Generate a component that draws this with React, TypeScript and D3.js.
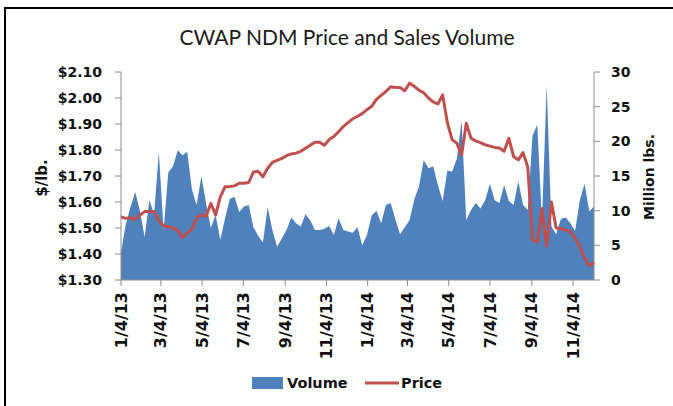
import * as d3 from "d3";

// weekly series starting 1/4/13
const startDate = new Date(2013, 0, 4);

const volume = [
  4.0, 8.0, 10.5, 12.7, 10.0, 6.2, 11.5, 9.5, 18.5, 7.2,
  15.5, 16.4, 18.7, 18.0, 18.5, 13.0, 10.8, 15.0, 11.0, 7.5,
  9.4, 5.8, 8.9, 11.7, 12.0, 9.8, 10.6, 10.8, 7.6, 6.4,
  5.4, 10.5, 7.2, 4.8, 6.0, 7.2, 9.0, 8.2, 7.7, 9.5,
  8.6, 7.2, 7.2, 7.4, 7.8, 6.5, 8.9, 7.2, 7.0, 6.8,
  7.6, 5.0, 6.5, 9.3, 10.0, 8.2, 10.8, 11.1, 8.8, 6.6,
  7.6, 8.6, 11.6, 13.5, 17.3, 16.1, 16.4, 13.7, 11.4, 15.8,
  15.6, 17.5, 23.0, 8.6, 10.1, 11.1, 10.3, 11.5, 13.9, 11.5,
  11.1, 13.7, 11.4, 10.8, 14.2, 10.8, 10.1, 20.8, 22.4, 8.5,
  28.1, 7.7, 6.6, 8.8, 9.0, 8.2, 7.1, 11.5, 13.9, 9.9,
  10.6,
];

const price = [
  1.543, 1.537, 1.540, 1.533, 1.550, 1.563, 1.563, 1.563, 1.528, 1.508,
  1.505, 1.500, 1.490, 1.464, 1.480, 1.495, 1.540, 1.550, 1.545, 1.595,
  1.550, 1.620, 1.659, 1.660, 1.662, 1.672, 1.672, 1.675, 1.715, 1.718,
  1.697, 1.730, 1.752, 1.760, 1.768, 1.778, 1.785, 1.788, 1.795, 1.807,
  1.818, 1.830, 1.830, 1.818, 1.840, 1.852, 1.870, 1.890, 1.905, 1.920,
  1.930, 1.940, 1.955, 1.968, 1.995, 2.010, 2.025, 2.043, 2.040, 2.040,
  2.028, 2.057, 2.045, 2.030, 2.020, 2.000, 1.985, 1.977, 2.012, 1.905,
  1.840, 1.826, 1.780, 1.903, 1.845, 1.835, 1.828, 1.820, 1.815, 1.810,
  1.808, 1.795, 1.845, 1.775, 1.762, 1.790, 1.735, 1.455, 1.445, 1.575,
  1.430, 1.600, 1.500, 1.497, 1.492, 1.486, 1.460, 1.430, 1.385, 1.355,
  1.367,
];

const dateTicks = ["1/4/13", "3/4/13", "5/4/13", "7/4/13", "9/4/13", "11/4/13",
  "1/4/14", "3/4/14", "5/4/14", "7/4/14", "9/4/14", "11/4/14"];
const priceTicks = [1.3, 1.4, 1.5, 1.6, 1.7, 1.8, 1.9, 2.0, 2.1];
const volumeTicks = [0, 5, 10, 15, 20, 25, 30];

const W = 673;
const H = 406;
const left = 121;
const right = 594;
const top = 72;
const bottom = 280;

const axisColor = "#8c8c8c";
const blue = "#4f81bd";
const red = "#c0504d";
const tickFont = "'DejaVu Sans', Verdana, sans-serif";

export default function App() {
  const dates = volume.map((_, i) => d3.timeDay.offset(startDate, 7 * i));
  const parse = d3.timeParse("%m/%d/%y");

  const x = d3.scaleTime().domain([dates[0], dates[dates.length - 1]]).range([left, right]);
  const yPrice = d3.scaleLinear().domain([1.3, 2.1]).range([bottom, top]);
  const yVol = d3.scaleLinear().domain([0, 30]).range([bottom, top]);

  const area = d3.area<number>()
    .x((_, i) => x(dates[i]))
    .y0(yVol(0))
    .y1(d => yVol(d));

  const line = d3.line<number>()
    .x((_, i) => x(dates[i]))
    .y(d => yPrice(d));

  return (
    <svg width={W} height={H} style={{ position: "absolute", left: 0, top: 0, display: "block", background: "#fff" }}>
      {/* outer frame */}
      <rect x={5} y={8} width={W + 20} height={H + 20} fill="#fff" stroke="#000" strokeWidth={2} />

      <text x={347} y={45} textAnchor="middle" fontFamily="Lato, 'Open Sans', sans-serif" fontSize={21} fill="#1a1a1a">
        CWAP NDM Price and Sales Volume
      </text>

      {/* volume area */}
      <path d={area(volume) ?? ""} fill={blue} />

      {/* axes */}
      <line x1={left} x2={left} y1={top} y2={bottom} stroke={axisColor} />
      <line x1={right} x2={right} y1={top} y2={bottom} stroke={axisColor} />
      <line x1={left} x2={right} y1={bottom} y2={bottom} stroke={axisColor} />

      {priceTicks.map(t => (
        <g key={"p" + t}>
          <line x1={left - 6} x2={left} y1={yPrice(t)} y2={yPrice(t)} stroke={axisColor} />
          <text x={102} y={yPrice(t)} dy="0.35em" textAnchor="end" fontFamily={tickFont} fontWeight="bold" fontSize={14} fill="#111">
            {"$" + t.toFixed(2)}
          </text>
        </g>
      ))}

      {volumeTicks.map(t => (
        <g key={"v" + t}>
          <line x1={right} x2={right + 6} y1={yVol(t)} y2={yVol(t)} stroke={axisColor} />
          <text x={611} y={yVol(t)} dy="0.35em" textAnchor="start" fontFamily={tickFont} fontWeight="bold" fontSize={14} fill="#111">
            {t}
          </text>
        </g>
      ))}

      {dateTicks.map(t => {
        const tx = x(parse(t) as Date);
        return (
          <g key={t}>
            <line x1={tx} x2={tx} y1={bottom} y2={bottom + 6} stroke={axisColor} />
            <text transform={`translate(${tx},292) rotate(-90)`} dy="0.35em" textAnchor="end" fontFamily={tickFont} fontWeight="bold" fontSize={16} fill="#111">
              {t}
            </text>
          </g>
        );
      })}

      {/* price line */}
      <path d={line(price) ?? ""} fill="none" stroke={red} strokeWidth={3} strokeLinejoin="round" />

      {/* axis titles */}
      <text transform="translate(42,178) rotate(-90)" dy="0.35em" textAnchor="middle" fontFamily={tickFont} fontWeight="bold" fontSize={15} fill="#111">
        $/lb.
      </text>
      <text transform="translate(649,177) rotate(-90)" dy="0.35em" textAnchor="middle" fontFamily={tickFont} fontWeight="bold" fontSize={14} fill="#111">
        Million lbs.
      </text>

      {/* legend */}
      <rect x={252} y={377} width={31} height={12} fill={blue} />
      <text x={287} y={383} dy="0.35em" fontFamily={tickFont} fontWeight="bold" fontSize={14.5} fill="#111">Volume</text>
      <line x1={365} x2={399} y1={383} y2={383} stroke={red} strokeWidth={3} />
      <text x={401} y={383} dy="0.35em" fontFamily={tickFont} fontWeight="bold" fontSize={14.5} fill="#111">Price</text>
    </svg>
  );
}
